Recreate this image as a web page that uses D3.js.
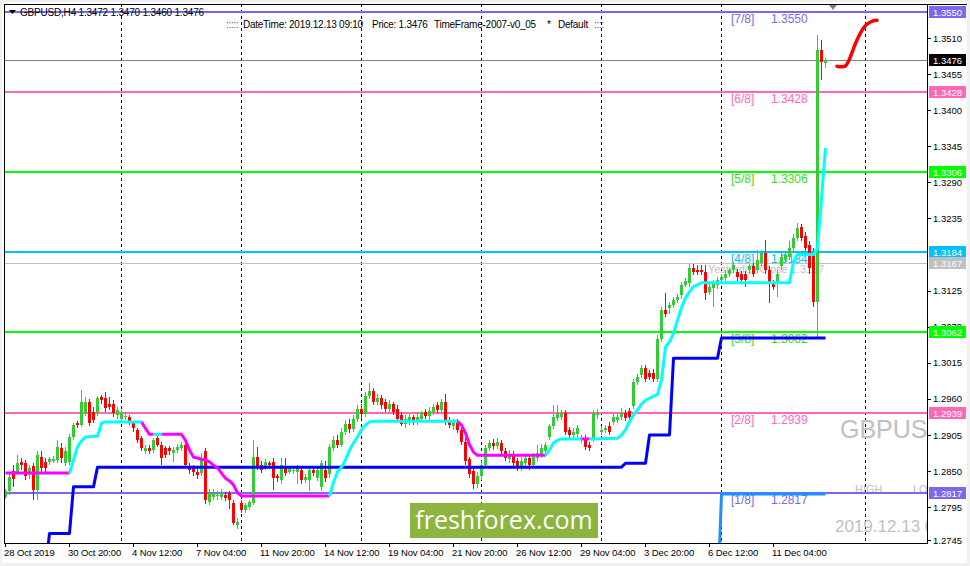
<!DOCTYPE html>
<html><head><meta charset="utf-8">
<script src="https://cdnjs.cloudflare.com/ajax/libs/d3/7.8.5/d3.min.js"></script>
<style>
html,body{margin:0;padding:0;background:#f0f0f0;overflow:hidden;}
svg{display:block;font-family:"Liberation Sans",Arial,sans-serif;}
</style></head><body>
<svg id="c" width="970" height="566"></svg>
<script>
// ---------------- DATA ----------------
const symbolHeader = "GBPUSD,H4  1.3472 1.3470 1.3460 1.3476";
const infoParts = [
  {t:":::::", x:226},
  {t:"DateTime: 2019.12.13 09:10", x:243},
  {t:"Price: 1.3476", x:372},
  {t:"TimeFrame-2007-v0_05", x:434},
  {t:"*", x:547},
  {t:"Default", x:558},
  {t:"::::", x:594}
];
const open = [
1.2811,1.2819,1.2850,1.2849,1.2864,1.2862,1.2849,1.2858,1.2821,1.2872,
1.2864,1.2864,1.2866,1.2867,1.2885,1.2863,1.2864,1.2902,1.2923,1.2920,
1.2938,1.2956,1.2940,1.2938,1.2963,1.2961,1.2953,1.2953,1.2936,1.2930,
1.2933,1.2933,1.2923,1.2913,1.2900,1.2880,1.2885,1.2882,1.2900,1.2890,
1.2885,1.2885,1.2877,1.2882,1.2885,1.2890,1.2857,1.2854,1.2849,1.2847,
1.2880,1.2803,1.2811,1.2813,1.2811,1.2814,1.2816,1.2801,1.2768,1.2801,
1.2791,1.2796,1.2801,1.2872,1.2859,1.2857,1.2862,1.2864,1.2842,1.2836,
1.2854,1.2849,1.2851,1.2849,1.2852,1.2836,1.2836,1.2852,1.2839,1.2826,
1.2852,1.2845,1.2885,1.2898,1.2890,1.2910,1.2922,1.2914,1.2930,1.2945,
1.2937,1.2965,1.2972,1.2955,1.2962,1.2955,1.2945,1.2952,1.2945,1.2935,
1.2922,1.2925,1.2932,1.2925,1.2930,1.2940,1.2934,1.2940,1.2950,1.2943,
1.2955,1.2928,1.2918,1.2925,1.2912,1.2895,1.2868,1.2850,1.2830,1.2842,
1.2860,1.2885,1.2893,1.2888,1.2893,1.2880,1.2868,1.2875,1.2865,1.2855,
1.2862,1.2870,1.2860,1.2870,1.2875,1.2880,1.2902,1.2918,1.2931,1.2933,
1.2938,1.2912,1.2905,1.2907,1.2898,1.2900,1.2890,1.2900,1.2936,1.2910,
1.2912,1.2918,1.2925,1.2928,1.2933,1.2939,1.2941,1.2949,1.2986,1.2997,
1.3007,1.2999,1.3000,1.2991,1.3052,1.3096,1.3098,1.3103,1.3111,1.3118,
1.3134,1.3136,1.3159,1.3157,1.3157,1.3154,1.3123,1.3129,1.3134,1.3141,
1.3145,1.3151,1.3157,1.3154,1.3151,1.3151,1.3157,1.3162,1.3157,1.3167,
1.3182,1.3157,1.3136,1.3136,1.3162,1.3172,1.3177,1.3190,1.3205,1.3222,
1.3208,1.3195,1.3182,1.3108,1.3491,1.3472];
const high = [
1.2822,1.2846,1.2860,1.2875,1.2870,1.2867,1.2860,1.2862,1.2880,1.2880,
1.2870,1.2872,1.2873,1.2897,1.2893,1.2886,1.2906,1.2924,1.2927,1.2974,
1.2963,1.2960,1.2948,1.2965,1.2966,1.2971,1.2963,1.2958,1.2948,1.2943,
1.2940,1.2936,1.2926,1.2916,1.2904,1.2890,1.2890,1.2901,1.2903,1.2895,
1.2889,1.2889,1.2887,1.2892,1.2895,1.2893,1.2862,1.2859,1.2855,1.2878,
1.2885,1.2822,1.2822,1.2820,1.2822,1.2818,1.2820,1.2806,1.2778,1.2806,
1.2801,1.2806,1.2898,1.2887,1.2865,1.2868,1.2866,1.2870,1.2845,1.2870,
1.2870,1.2857,1.2857,1.2860,1.2857,1.2845,1.2857,1.2857,1.2857,1.2867,
1.2865,1.2892,1.2903,1.2905,1.2915,1.2928,1.2930,1.2935,1.2950,1.2952,
1.2970,1.2985,1.2976,1.2968,1.2966,1.2960,1.2958,1.2956,1.2950,1.2940,
1.2935,1.2937,1.2936,1.2940,1.2942,1.2945,1.2948,1.2952,1.2955,1.2960,
1.2967,1.2932,1.2930,1.2930,1.2916,1.2900,1.2872,1.2855,1.2848,1.2865,
1.2890,1.2897,1.2899,1.2900,1.2897,1.2885,1.2882,1.2880,1.2870,1.2872,
1.2875,1.2874,1.2878,1.2890,1.2892,1.2895,1.2922,1.2951,1.2951,1.2943,
1.2943,1.2917,1.2915,1.2920,1.2905,1.2905,1.2895,1.2943,1.2944,1.2918,
1.2920,1.2925,1.2938,1.2938,1.2946,1.2943,1.2946,1.2991,1.2998,1.3012,
1.3012,1.3004,1.3005,1.3057,1.3100,1.3121,1.3108,1.3116,1.3120,1.3138,
1.3144,1.3165,1.3165,1.3164,1.3164,1.3164,1.3136,1.3141,1.3146,1.3150,
1.3156,1.3160,1.3168,1.3158,1.3155,1.3155,1.3166,1.3167,1.3187,1.3187,
1.3202,1.3162,1.3141,1.3156,1.3182,1.3184,1.3200,1.3212,1.3228,1.3226,
1.3215,1.3200,1.3190,1.3514,1.3507,1.3479];
const low = [
1.2808,1.2814,1.2826,1.2845,1.2852,1.2836,1.2838,1.2806,1.2806,1.2845,
1.2848,1.2860,1.2862,1.2862,1.2862,1.2858,1.2860,1.2898,1.2915,1.2917,
1.2934,1.2918,1.2923,1.2934,1.2953,1.2940,1.2943,1.2933,1.2930,1.2926,
1.2928,1.2920,1.2910,1.2893,1.2880,1.2876,1.2876,1.2878,1.2886,1.2859,
1.2870,1.2875,1.2864,1.2878,1.2880,1.2854,1.2845,1.2843,1.2838,1.2842,
1.2800,1.2798,1.2806,1.2806,1.2806,1.2804,1.2793,1.2768,1.2762,1.2786,
1.2786,1.2791,1.2798,1.2852,1.2847,1.2852,1.2855,1.2821,1.2834,1.2831,
1.2842,1.2845,1.2846,1.2830,1.2831,1.2832,1.2820,1.2842,1.2835,1.2820,
1.2834,1.2840,1.2880,1.2885,1.2886,1.2905,1.2908,1.2910,1.2925,1.2930,
1.2933,1.2960,1.2950,1.2950,1.2945,1.2940,1.2940,1.2935,1.2925,1.2918,
1.2915,1.2920,1.2920,1.2920,1.2925,1.2930,1.2928,1.2935,1.2938,1.2938,
1.2920,1.2915,1.2912,1.2908,1.2890,1.2860,1.2840,1.2822,1.2825,1.2836,
1.2855,1.2880,1.2882,1.2883,1.2875,1.2865,1.2862,1.2857,1.2850,1.2850,
1.2855,1.2852,1.2855,1.2865,1.2870,1.2876,1.2898,1.2914,1.2926,1.2928,
1.2905,1.2900,1.2900,1.2902,1.2893,1.2882,1.2880,1.2895,1.2930,1.2905,
1.2908,1.2905,1.2920,1.2923,1.2928,1.2926,1.2928,1.2944,1.2981,1.2992,
1.2986,1.2989,1.2986,1.2986,1.3047,1.3085,1.3090,1.3098,1.3106,1.3113,
1.3130,1.3131,1.3149,1.3149,1.3149,1.3111,1.3118,1.3100,1.3128,1.3136,
1.3140,1.3146,1.3152,1.3140,1.3136,1.3130,1.3150,1.3146,1.3152,1.3162,
1.3150,1.3106,1.3126,1.3116,1.3157,1.3168,1.3172,1.3186,1.3200,1.3200,
1.3185,1.3150,1.3100,1.3054,1.3446,1.3464];
const close = [
1.2819,1.2841,1.2838,1.2862,1.2859,1.2842,1.2854,1.2821,1.2874,1.2854,
1.2854,1.2868,1.2869,1.2887,1.2870,1.2880,1.2902,1.2920,1.2920,1.2956,
1.2956,1.2923,1.2928,1.2961,1.2958,1.2946,1.2948,1.2938,1.2943,1.2938,
1.2934,1.2925,1.2915,1.2898,1.2885,1.2885,1.2880,1.2897,1.2890,1.2870,
1.2875,1.2880,1.2882,1.2887,1.2890,1.2859,1.2852,1.2849,1.2844,1.2867,
1.2806,1.2816,1.2816,1.2814,1.2816,1.2809,1.2806,1.2771,1.2773,1.2791,
1.2798,1.2803,1.2872,1.2857,1.2852,1.2864,1.2859,1.2839,1.2839,1.2859,
1.2847,1.2853,1.2852,1.2854,1.2836,1.2841,1.2852,1.2847,1.2852,1.2862,
1.2839,1.2887,1.2898,1.2890,1.2910,1.2922,1.2914,1.2930,1.2945,1.2937,
1.2965,1.2972,1.2955,1.2962,1.2950,1.2945,1.2952,1.2940,1.2930,1.2922,
1.2930,1.2932,1.2925,1.2933,1.2938,1.2934,1.2942,1.2948,1.2943,1.2955,
1.2925,1.2920,1.2925,1.2912,1.2895,1.2865,1.2845,1.2830,1.2842,1.2860,
1.2885,1.2893,1.2888,1.2895,1.2880,1.2870,1.2876,1.2862,1.2855,1.2866,
1.2870,1.2860,1.2872,1.2878,1.2885,1.2890,1.2918,1.2933,1.2938,1.2938,
1.2910,1.2905,1.2910,1.2915,1.2899,1.2887,1.2885,1.2938,1.2939,1.2913,
1.2915,1.2910,1.2933,1.2933,1.2939,1.2931,1.2933,1.2986,1.2994,1.3007,
1.2991,1.2994,1.2991,1.3052,1.3096,1.3090,1.3103,1.3111,1.3116,1.3134,
1.3139,1.3159,1.3154,1.3154,1.3154,1.3121,1.3131,1.3136,1.3141,1.3146,
1.3151,1.3156,1.3164,1.3146,1.3141,1.3141,1.3162,1.3151,1.3172,1.3182,
1.3157,1.3136,1.3131,1.3151,1.3177,1.3179,1.3190,1.3205,1.3220,1.3205,
1.3190,1.3160,1.3108,1.3491,1.3474,1.3476];

// indicator vertices: [bar index, price]
const blueStep = [[10,1.2700],[11,1.2755],[16,1.2755],[17,1.2826],[22,1.2826],[23,1.2856],
  [154,1.2856],[155,1.2862],[160,1.2862],[161,1.2905],[166,1.2905],[167,1.3022],[178,1.3022],[179,1.3053],[205,1.3053]];
const dodgerStep = [[178,1.2650],[179,1.2815],[205,1.2815]];
const trendUp = [
  [[16,1.2847],[17,1.2867],[18,1.2887],[19,1.2896],[20,1.2902],[23,1.2903],[24,1.2923],[25,1.2925],[34,1.2925]],
  [[37,1.2906],[39,1.2906]],
  [[81,1.2812],[82,1.2833],[83,1.2849],[84,1.2856],[85,1.2867],[86,1.2882],[87,1.2893],[88,1.2902],[89,1.2913],[90,1.2920],[91,1.2925],[92,1.2926],[113,1.2926]],
  [[135,1.2874],[136,1.2882],[137,1.2893],[138,1.2897],[139,1.2899],[144,1.2899]],
  [[146,1.2899],[153,1.2900],[154,1.2905],[155,1.2913],[156,1.2925],[157,1.2936],[158,1.2943],[159,1.2952],[160,1.2958],[161,1.2961],[162,1.2964],[163,1.2967],[164,1.2989],[165,1.3039],[166,1.3047],[167,1.3060],[168,1.3080],[169,1.3099],[170,1.3114],[171,1.3123],[172,1.3131],[173,1.3134],[174,1.3137],[196,1.3137],[197,1.3169],[198,1.3180],[202,1.3180],[203,1.3190],[204,1.3265],[205,1.3342]]
];
const trendDown = [
  [[0,1.2847],[16,1.2847]],
  [[34,1.2925],[35,1.2915],[36,1.2906],[37,1.2906]],
  [[39,1.2906],[44,1.2906],[45,1.2897],[46,1.2882],[47,1.2871],[48,1.2870],[49,1.2868],[50,1.2867],[51,1.2864],[52,1.2859],[53,1.2855],[54,1.2847],[55,1.2839],[56,1.2835],[57,1.2829],[58,1.2817],[59,1.2812],[81,1.2812]],
  [[113,1.2926],[114,1.2920],[115,1.2908],[116,1.2890],[117,1.2879],[118,1.2874],[135,1.2874]],
  [[144,1.2899],[146,1.2899]]
];
const forecast = [[208,1.3467],[209,1.3466],[210,1.3467],[211,1.3476],[212,1.3492],[213,1.3507],[214,1.3519],[215,1.3528],[216,1.3533],[217,1.3536],[218,1.3537]];

const murreyNames = ["[7/8]","[6/8]","[5/8]","[4/8]","[3/8]","[2/8]","[1/8]"];
const murreyValues = [1.3550,1.3428,1.3306,1.3184,1.3062,1.2939,1.2817];
const murreyColors = ["#7b68ee","#ff69b4","#00ff00","#00bfff","#00ff00","#ff69b4","#7b68ee"];
const murreyTextColors = ["#7b68ee","#ff69b4","#33dd11","#00bfff","#33dd11","#ff69b4","#7b68ee"];
const yesterdayClose = 1.3167;
const lastPrice = 1.3476;

const priceTicks = [1.3510,1.3455,1.3400,1.3345,1.3290,1.3235,1.3125,1.3070,1.3015,1.2960,1.2905,1.2850,1.2795,1.2745];
const timeTickBars = [0,16,32,48,64,80,96,112,128,144,160,176,192];
const timeTickLabels = ["28 Oct 2019","30 Oct 20:00","4 Nov 12:00","7 Nov 04:00","11 Nov 20:00","14 Nov 12:00","19 Nov 04:00","21 Nov 20:00","26 Nov 12:00","29 Nov 04:00","3 Dec 20:00","6 Dec 12:00","11 Dec 04:00"];
const gridBars = [29.1,59.1,89.1,119.1,149.1,179,215.1];

// ---------------- DRAW ----------------
const svg = d3.select('#c');
const x = d3.scaleLinear().domain([0,205]).range([5,825]);
const y = d3.scaleLinear().domain([1.2745,1.3510]).range([540,38]);
const L=4, T=4, R=927, B=543;

svg.append('rect').attr('width',970).attr('height',566).attr('fill','#f0f0f0');
svg.append('rect').attr('x',2).attr('y',2).attr('width',965).attr('height',561).attr('fill','#fff');

const defs = svg.append('defs');
defs.append('clipPath').attr('id','plot').append('rect').attr('x',L+1).attr('y',T+1).attr('width',R-L-1).attr('height',B-T-1);
const P = svg.append('g').attr('clip-path','url(#plot)');

// grid
P.selectAll('line.grid').data(gridBars).join('line')
  .attr('x1',d=>Math.round(x(d))+0.5).attr('x2',d=>Math.round(x(d))+0.5)
  .attr('y1',T).attr('y2',B).attr('stroke','#000').attr('stroke-width',1)
  .attr('stroke-dasharray','3,3').attr('shape-rendering','crispEdges');

// background texts (watermarks and labels)
P.append('text').attr('x',840).attr('y',438).attr('font-size',25).attr('fill','#c0c0c0').text('GBPUSD');
P.append('text').attr('x',855).attr('y',493).attr('font-size',11).attr('fill','#c0c0c0').text('HIGH');
P.append('text').attr('x',913).attr('y',493).attr('font-size',11).attr('fill','#c0c0c0').text('LOW');
P.append('text').attr('x',835).attr('y',532).attr('font-size',17).attr('fill','#c0c0c0').text('2019.12.13 09:10');

murreyValues.forEach((v,k)=>{
  P.append('text').attr('x',731).attr('y',y(v)+11.5).attr('font-size',12).attr('fill',murreyTextColors[k]).text(murreyNames[k]);
  P.append('text').attr('x',771).attr('y',y(v)+11.5).attr('font-size',12).attr('fill',murreyTextColors[k]).text(d3.format('.4f')(v));
});
P.append('text').attr('x',708).attr('y',y(yesterdayClose)+10).attr('font-size',11).attr('fill','#c0c0c0').text('Yesterday Close '+d3.format('.4f')(yesterdayClose));

// horizontal lines
murreyValues.forEach((v,k)=>{
  P.append('line').attr('x1',L).attr('x2',R).attr('y1',Math.round(y(v))).attr('y2',Math.round(y(v)))
    .attr('stroke',murreyColors[k]).attr('stroke-width',2).attr('shape-rendering','crispEdges');
});
P.append('line').attr('x1',L).attr('x2',R).attr('y1',Math.round(y(yesterdayClose))+0.5).attr('y2',Math.round(y(yesterdayClose))+0.5)
  .attr('stroke','#c0c0c0').attr('stroke-width',1).attr('shape-rendering','crispEdges');
P.append('line').attr('x1',L).attr('x2',R).attr('y1',Math.round(y(lastPrice))+0.5).attr('y2',Math.round(y(lastPrice))+0.5)
  .attr('stroke','#808080').attr('stroke-width',1).attr('shape-rendering','crispEdges');

// candles
const bars = d3.range(open.length);
const cg = P.append('g').attr('shape-rendering','crispEdges');
cg.selectAll('line.w').data(bars).join('line')
  .attr('x1',i=>Math.round(x(i))+0.5).attr('x2',i=>Math.round(x(i))+0.5)
  .attr('y1',i=>y(high[i])).attr('y2',i=>y(low[i]))
  .attr('stroke',i=>close[i]>=open[i]?'#32cd32':'#ff0000').attr('stroke-width',1);
cg.selectAll('rect.b').data(bars).join('rect')
  .attr('x',i=>Math.round(x(i))-1).attr('width',3)
  .attr('y',i=>y(Math.max(open[i],close[i])))
  .attr('height',i=>Math.max(1,Math.abs(y(open[i])-y(close[i]))))
  .attr('fill',i=>close[i]>=open[i]?'#32cd32':'#ff0000');

// indicator lines
const ln = d3.line().x(d=>x(d[0])+0.5).y(d=>y(d[1]));
P.append('path').attr('d',ln(blueStep)).attr('fill','none').attr('stroke','#0000ff').attr('stroke-width',3).attr('stroke-linejoin','round');
P.append('path').attr('d',ln(dodgerStep)).attr('fill','none').attr('stroke','#1e90ff').attr('stroke-width',3).attr('stroke-linejoin','round');
trendDown.forEach(s=>P.append('path').attr('d',ln(s)).attr('fill','none').attr('stroke','#ff00ff').attr('stroke-width',3).attr('stroke-linejoin','round'));
trendUp.forEach(s=>P.append('path').attr('d',ln(s)).attr('fill','none').attr('stroke','#00ffff').attr('stroke-width',3).attr('stroke-linejoin','round'));
P.append('path').attr('d',d3.line().x(d=>x(d[0])).y(d=>y(d[1])).curve(d3.curveMonotoneX)(forecast))
  .attr('fill','none').attr('stroke','#ff0000').attr('stroke-width',3.5).attr('stroke-linecap','round');

// frame
const fr = svg.append('g').attr('shape-rendering','crispEdges').attr('stroke','#000');
fr.append('line').attr('x1',L+0.5).attr('x2',L+0.5).attr('y1',T).attr('y2',B+1);
fr.append('line').attr('x1',L).attr('x2',967).attr('y1',T+0.5).attr('y2',T+0.5);
fr.append('line').attr('x1',R+0.5).attr('x2',R+0.5).attr('y1',T).attr('y2',B+1);
fr.append('line').attr('x1',L).attr('x2',R+1).attr('y1',B+0.5).attr('y2',B+0.5);

// shift marker
svg.append('path').attr('d',d3.line()([[x(207)-4,5],[x(207)+4,5],[x(207),10]])+'Z').attr('fill','#808080');

// header
svg.append('path').attr('d','M9,10L16,10L12.5,14Z').attr('fill','#000');
svg.append('text').attr('x',20).attr('y',16).attr('font-size',10).attr('letter-spacing','-0.2').attr('fill','#000').text(symbolHeader);
infoParts.forEach(p=>svg.append('text').attr('x',p.x).attr('y',28).attr('font-size',10).attr('letter-spacing','-0.25')
  .attr('fill', p.t.startsWith(':')?'#8040a0':'#000').text(p.t));

// right axis
const ra = svg.append('g');
ra.selectAll('line.t').data(priceTicks).join('line')
  .attr('x1',R).attr('x2',R+4).attr('y1',d=>Math.round(y(d))+0.5).attr('y2',d=>Math.round(y(d))+0.5)
  .attr('stroke','#000').attr('shape-rendering','crispEdges');
ra.selectAll('text').data(priceTicks).join('text')
  .attr('x',933).attr('y',d=>y(d)+3.5).attr('font-size',9.5).attr('fill','#000').text(d=>d3.format('.4f')(d));

const boxes = murreyValues.map((v,k)=>({v,c:murreyColors[k]}));
boxes.push({v:lastPrice,c:'#000'},{v:yesterdayClose,c:'#c0c0c0'});
boxes.forEach(b=>{
  const yy = Math.round(y(b.v));
  ra.append('rect').attr('x',R+2).attr('y',yy-6).attr('width',37).attr('height',12).attr('fill',b.c);
  ra.append('text').attr('x',933).attr('y',yy+3.5).attr('font-size',9.5).attr('fill','#fff').text(d3.format('.4f')(b.v));
});

// bottom axis
const ba = svg.append('g');
ba.selectAll('line').data(timeTickBars).join('line')
  .attr('x1',d=>Math.round(x(d))+0.5).attr('x2',d=>Math.round(x(d))+0.5).attr('y1',B).attr('y2',B+4)
  .attr('stroke','#000').attr('shape-rendering','crispEdges');
ba.selectAll('text').data(timeTickBars).join('text')
  .attr('x',d=>x(d)-1).attr('y',556).attr('font-size',9.5).attr('letter-spacing','-0.1').attr('fill','#000')
  .text((d,k)=>timeTickLabels[k]);

// logo
svg.append('rect').attr('x',410).attr('y',503).attr('width',188).attr('height',35).attr('fill','#8db43e');
svg.append('text').attr('x',504).attr('y',529).attr('text-anchor','middle').attr('font-size',25)
  .attr('font-family','"Open Sans","Liberation Sans",Arial,sans-serif').attr('fill','#fff').text('freshforex.com');
</script>
</body></html>
